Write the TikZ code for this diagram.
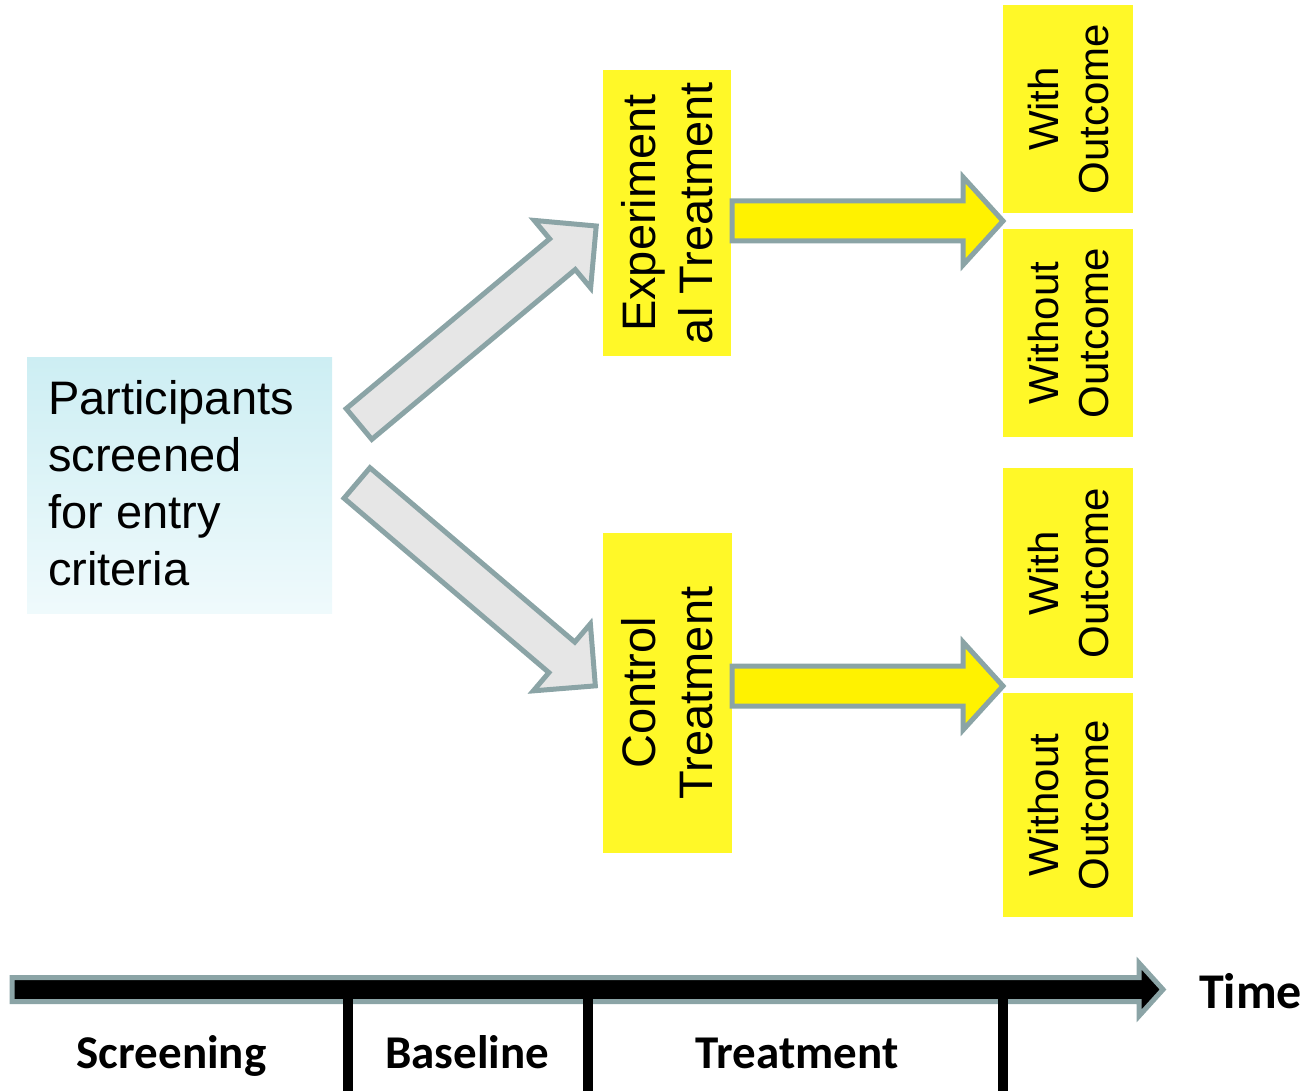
\documentclass[tikz,border=0pt]{standalone}
\usepackage{fontspec}
\setmainfont{Liberation Sans}
\newfontfamily\phasefont{Carlito}

\definecolor{edgegray}{RGB}{139,164,166}
\definecolor{arrowgray}{RGB}{230,230,230}
\definecolor{boxyellow}{RGB}{255,248,40}
\definecolor{cyantop}{RGB}{205,238,243}
\definecolor{cyanbot}{RGB}{239,250,252}

\tikzset{
  % block arrow lying along +x from its tail centre:
  % #1 total length, #2 shaft width, #3 head width, #4 head length
  pics/blockarrow/.style n args={4}{code={
    \path[pic actions] (0,-#2/2) -- ({#1-#4},-#2/2) -- ({#1-#4},-#3/2)
      -- (#1,0) -- ({#1-#4},#3/2) -- ({#1-#4},#2/2) -- (0,#2/2) -- cycle;
  }},
  grayarrow/.style={fill=arrowgray, draw=edgegray, line width=5pt},
  yellowarrow/.style={fill=yellow, draw=edgegray, line width=5pt},
  timearrow/.style={fill=black, draw=edgegray, line width=5pt},
  screenbox/.style={rectangle, inner sep=0pt, top color=cyantop, bottom color=cyanbot,
    minimum width=305pt, minimum height=256pt},
  bodytext/.style={inner sep=0pt, align=left, font=\fontsize{47}{57}\selectfont},
  armbox/.style={rectangle, fill=boxyellow, rotate=90, inner sep=0pt, align=center,
    font=\fontsize{47}{57}\selectfont},
  outbox/.style={rectangle, fill=boxyellow, rotate=90, inner sep=0pt, align=center,
    minimum height=130pt, font=\fontsize{42}{50}\selectfont},
  phase/.style={anchor=base, inner sep=0pt, font=\phasefont\bfseries\fontsize{47}{56}\selectfont},
  tick/.style={line width=10pt, black},
}

\begin{document}
\begin{tikzpicture}[x=1pt, y=-1pt]
  \useasboundingbox (0,0) rectangle (1314,1091);

  % screening box
  \node[screenbox] (screen) at (179.5,485) {};
  \node[bodytext, anchor=north west] (screentext) at (48,380.5)
    {Participants\\screened\\for entry\\criteria};

  % treatment arms
  \node[armbox, minimum width=286pt, minimum height=128pt] (exp) at (667,213)
    {Experiment\\al Treatment};
  \node[armbox, minimum width=320pt, minimum height=129pt] (ctrl) at (667.5,693)
    {Control\\Treatment};

  % outcomes
  \node[outbox, minimum width=208pt] (expwith) at (1068,109) {With\\Outcome};
  \node[outbox, minimum width=208pt] (expwithout) at (1068,333) {Without\\Outcome};
  \node[outbox, minimum width=210pt] (ctrlwith) at (1068,573) {With\\Outcome};
  \node[outbox, minimum width=224pt] (ctrlwithout) at (1068,805) {Without\\Outcome};

  % allocation arrows
  \pic[grayarrow, rotate=39.85] (toexp) at (359,424) {blockarrow={309}{40}{88}{44}};
  \pic[grayarrow, rotate=-40.4] (toctrl) at (357,483) {blockarrow={313}{40}{88}{44}};

  % follow-up arrows
  \pic[yellowarrow] (expfollow) at (732,221) {blockarrow={271}{40}{88}{40}};
  \pic[yellowarrow] (ctrlfollow) at (732,686) {blockarrow={271}{40}{88}{40}};

  % time line
  \pic[timearrow] (timeline) at (12,989.5) {blockarrow={1151}{24}{53}{24}};
  \coordinate (t1top) at (348,999);  \coordinate (t1bot) at (348,1091);
  \coordinate (t2top) at (588,999);  \coordinate (t2bot) at (588,1091);
  \coordinate (t3top) at (1003,999); \coordinate (t3bot) at (1003,1091);
  \draw[tick] (t1top) -- (t1bot);
  \draw[tick] (t2top) -- (t2bot);
  \draw[tick] (t3top) -- (t3bot);

  \node[phase] (screening) at (171.5,1068) {Screening};
  \node[phase] (baseline) at (467,1068) {Baseline};
  \node[phase] (treatment) at (797,1068) {Treatment};
  \node[phase, anchor=base west, font=\phasefont\bfseries\fontsize{50}{58}\selectfont]
    (time) at (1199,1008) {Time};
\end{tikzpicture}
\end{document}
